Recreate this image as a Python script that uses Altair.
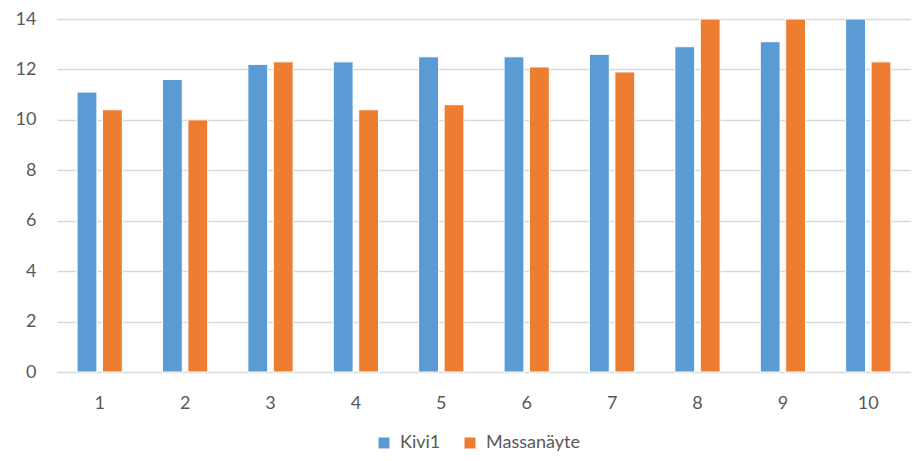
import altair as alt
import pandas as pd

categories = [str(i) for i in range(1, 11)]
series_names = ["Kivi1", "Massanäyte"]
kivi1 = [11.1, 11.6, 12.2, 12.3, 12.5, 12.5, 12.6, 12.9, 13.1, 14.0]
massanayte = [10.4, 10.0, 12.3, 10.4, 10.6, 12.1, 11.9, 14.0, 14.0, 12.3]
y_ticks = [0, 2, 4, 6, 8, 10, 12, 14]

rows = []
for c, a, b in zip(categories, kivi1, massanayte):
    rows.append({"cat": c, "series": series_names[0], "value": a})
    rows.append({"cat": c, "series": series_names[1], "value": b})
df = pd.DataFrame(rows)

FONT = "Lato"
LBL = "#595959"

chart = alt.Chart(df).mark_bar(stroke="white", strokeWidth=1).encode(
    x=alt.X("cat:O", sort=categories,
            scale=alt.Scale(paddingInner=0.47, paddingOuter=0.235),
            axis=alt.Axis(title=None, labelAngle=0, domain=False, ticks=False,
                          labelPadding=22, labelFontSize=18, labelColor=LBL,
                          labelFont=FONT)),
    xOffset=alt.XOffset("series:N", sort=series_names,
                        scale=alt.Scale(paddingInner=0.22, paddingOuter=0)),
    y=alt.Y("value:Q",
            scale=alt.Scale(domain=[0, 14], clamp=True, nice=False),
            axis=alt.Axis(values=y_ticks, title=None, domain=False, ticks=False,
                          grid=True, gridColor="#d9d9d9", gridWidth=1.5,
                          labelPadding=21, labelFontSize=18, labelColor=LBL,
                          labelFont=FONT)),
    color=alt.Color("series:N",
                    scale=alt.Scale(domain=series_names, range=["#5B9BD5", "#ED7D31"]),
                    legend=alt.Legend(title=None, orient="none", legendX=318, legendY=415,
                                      direction="horizontal", symbolType="square",
                                      symbolSize=121, symbolStrokeWidth=0,
                                      labelFontSize=18, labelColor=LBL, labelFont=FONT,
                                      columnPadding=20, labelOffset=7)),
).properties(
    width=854, height=353,
    padding={"left": 49, "top": 11, "right": 0, "bottom": 81},
    autosize="none",
).configure_view(strokeWidth=0)

chart.save("out.html", embed_options={"renderer": "svg", "actions": False})
